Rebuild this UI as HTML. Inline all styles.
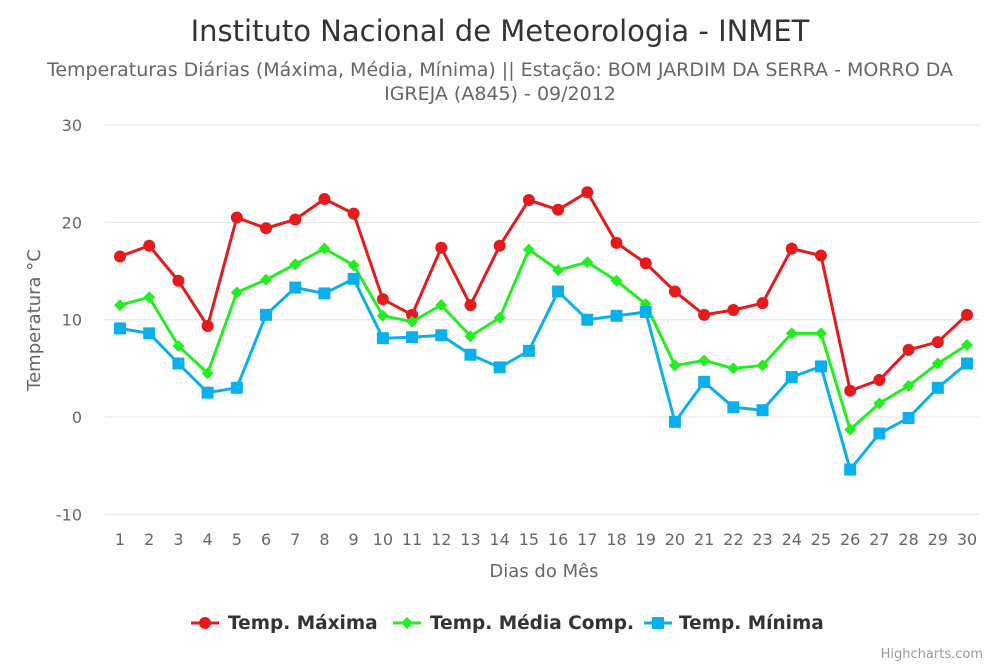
<!DOCTYPE html>
<html><head><meta charset="utf-8"><style>
html,body{margin:0;padding:0;background:#fff;}
svg{display:block;font-family:"DejaVu Sans","Liberation Sans",sans-serif;}
</style></head><body>
<svg id="chart" width="1000" height="667" viewBox="0 0 1000 667">
<text x="500" y="41" text-anchor="middle" font-size="29" fill="#333">Instituto Nacional de Meteorologia - INMET</text>
<text x="500" y="76" text-anchor="middle" font-size="19" fill="#666">Temperaturas Diárias (Máxima, Média, Mínima) || Estação: BOM JARDIM DA SERRA - MORRO DA</text>
<text x="500" y="100" text-anchor="middle" font-size="19" fill="#666">IGREJA (A845) - 09/2012</text>
<g id="grid"></g><g id="series"></g>
<text transform="translate(40,320) rotate(-90)" text-anchor="middle" font-size="18" fill="#666">Temperatura °C</text>
<text x="544" y="577" text-anchor="middle" font-size="18" fill="#666">Dias do Mês</text>
<g>
<g><line x1="191" y1="623" x2="219" y2="623" stroke="#e41a1c" stroke-width="3"/><circle cx="205" cy="623" r="6" fill="#e41a1c"/><text x="228" y="629" font-size="18.5" font-weight="bold" fill="#333">Temp. Máxima</text></g>
<g><line x1="393" y1="623" x2="421" y2="623" stroke="#22ee22" stroke-width="3"/><path d="M407,617 L413,623 L407,629 L401,623Z" fill="#22ee22"/><text x="430" y="629" font-size="18.5" font-weight="bold" fill="#333">Temp. Média Comp.</text></g>
<g><line x1="644" y1="623" x2="672" y2="623" stroke="#0ab0ee" stroke-width="3"/><rect x="652" y="617" width="12" height="12" fill="#0ab0ee"/><text x="679" y="629" font-size="18.5" font-weight="bold" fill="#333">Temp. Mínima</text></g>
</g>
<text x="983" y="658" text-anchor="end" font-size="13" fill="#999">Highcharts.com</text>
</svg>
<script>
const days=[1,2,3,4,5,6,7,8,9,10,11,12,13,14,15,16,17,18,19,20,21,22,23,24,25,26,27,28,29,30];
const tempMax=[16.5,17.6,14.0,9.35,20.5,19.4,20.3,22.4,20.9,12.1,10.5,17.4,11.5,17.6,22.3,21.3,23.1,17.9,15.8,12.9,10.5,11.0,11.7,17.3,16.6,2.7,3.8,6.9,7.7,10.5];
const tempMean=[11.5,12.3,7.3,4.5,12.8,14.1,15.7,17.3,15.6,10.4,9.8,11.5,8.3,10.2,17.2,15.1,15.9,14.0,11.6,5.3,5.8,5.0,5.3,8.6,8.6,-1.3,1.4,3.2,5.5,7.4];
const tempMin=[9.1,8.6,5.5,2.5,3.0,10.5,13.3,12.7,14.2,8.1,8.2,8.4,6.4,5.1,6.8,12.9,10.0,10.4,10.8,-0.5,3.6,1.0,0.7,4.1,5.2,-5.4,-1.7,-0.1,3.0,5.5];
const yTicks=[-10,0,10,20,30];
const NS="http://www.w3.org/2000/svg";
const x=d=>120+(d-1)*(967-120)/29;
const y=v=>417-v*9.73;
function mk(t,a,p){const e=document.createElementNS(NS,t);for(const k in a)e.setAttribute(k,a[k]);p.appendChild(e);return e;}
const grid=document.getElementById('grid');
yTicks.forEach(v=>{
 const l=mk('line',{x1:105,x2:980,y1:y(v),y2:y(v),stroke:'#e6e6e6','stroke-width':1},grid);
 
 
 const t=mk('text',{x:82,y:y(v)+6,'text-anchor':'end','font-size':16,fill:'#666'},grid);t.textContent=v;
 
 
});
days.forEach(d=>{
 const t=mk('text',{x:x(d),y:545,'text-anchor':'middle','font-size':16,fill:'#666'},grid);t.textContent=d;
 
 
});
const sg=document.getElementById('series');
function series(vals,color,shape,name){
 const g=mk('g',{},sg);
 
 
 mk('polyline',{points:vals.map((v,i)=>x(days[i])+','+y(v)).join(' '),fill:'none',stroke:color,'stroke-width':3},g);
 vals.forEach((v,i)=>{
  const cx=x(days[i]),cy=y(v);let m;
  if(shape==='c')m=mk('circle',{cx,cy,r:6,fill:color},g);
  else if(shape==='d')m=mk('path',{d:`M${cx},${cy-6}L${cx+6},${cy}L${cx},${cy+6}L${cx-6},${cy}Z`,fill:color},g);
  else m=mk('rect',{x:cx-6,y:cy-6,width:12,height:12,fill:color},g);
  
  
 });
}
series(tempMax,'#e41a1c','c','series-max');
series(tempMean,'#22ee22','d','series-mean');
series(tempMin,'#0ab0ee','s','series-min');
</script>
</body></html>
